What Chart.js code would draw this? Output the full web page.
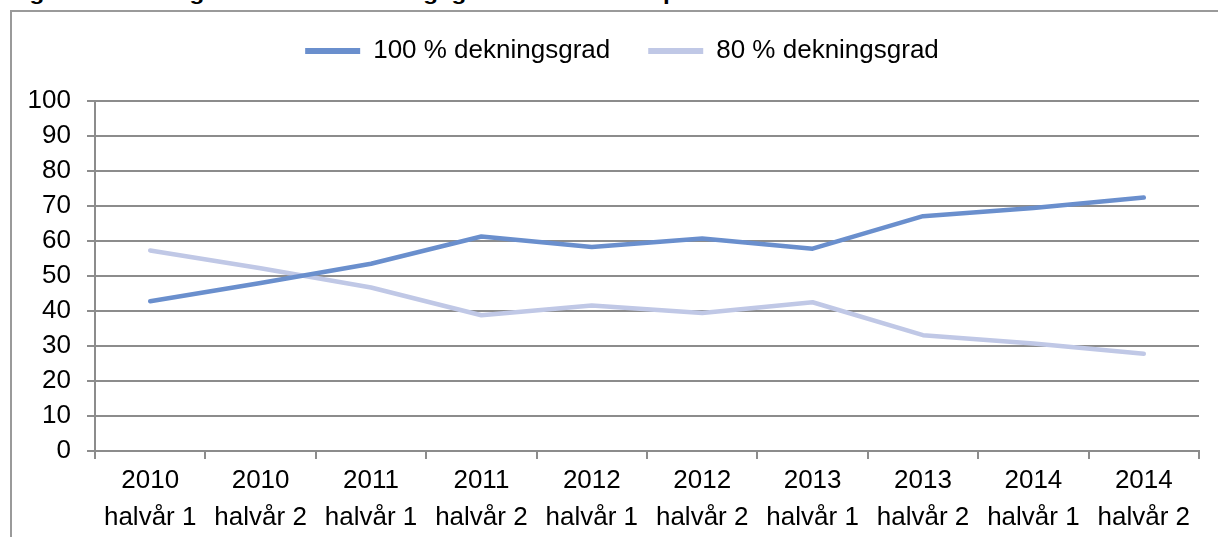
<!DOCTYPE html>
<html>
<head>
<meta charset="utf-8">
<script src="https://cdn.jsdelivr.net/npm/chart.js@4"></script>
<style>
  html, body { margin: 0; padding: 0; background: #fff; overflow: hidden; }
  #tittel {
    position: absolute; left: 8px; top: -17px; white-space: nowrap;
    font: bold 20px "Liberation Sans", Arial, sans-serif; line-height: 20px; color: #000;
    transform-origin: left top;
  }
  #ramme {
    position: absolute; left: 10px; top: 10px; width: 1300px; height: 600px;
    border: 2px solid #9a9a9a;
  }
  #graf { position: absolute; left: 0; top: 0; }
</style>
</head>
<body>
<div id="tittel">Figur 5. Utviklingen i bruk av dekningsgrad. Andel barn i/på i aktuelt halvår</div>
<div id="ramme"></div>
<canvas id="graf" width="1218" height="537"></canvas>
<script>
// verdier lest av figuren
const perioder = [
    ['2010', 'halvår 1'], ['2010', 'halvår 2'],
    ['2011', 'halvår 1'], ['2011', 'halvår 2'],
    ['2012', 'halvår 1'], ['2012', 'halvår 2'],
    ['2013', 'halvår 1'], ['2013', 'halvår 2'],
    ['2014', 'halvår 1'], ['2014', 'halvår 2']
];
const dekning100 = [42.8, 48.0, 53.5, 61.3, 58.3, 60.7, 57.8, 67.1, 69.4, 72.4];
const dekning80 = [57.3, 52.2, 46.7, 38.8, 41.6, 39.4, 42.5, 33.1, 30.7, 27.8];
const yMin = 0, yMax = 100, ySteg = 10;

const blaa = 'rgb(106, 143, 205)';
const lysblaa = 'rgb(192, 200, 230)';
const strek = '#8c8c8c';
const skrift = { family: '"Liberation Sans", Arial, sans-serif', size: 26 };

// tittelen er kuttet i toppen, strekk den til samme bredde
const t = document.getElementById('tittel');
t.style.transform = 'scaleX(' + (860 / t.offsetWidth) + ')';

// fast hoyde paa legenden saa plottet starter paa riktig sted
const legendeHoyde = {
    id: 'legendeHoyde',
    afterInit(chart) {
        const lg = chart.legend;
        const fit = lg.fit;
        lg.fit = function () { fit.call(this); this.height = 101; };
    },
    afterLayout(chart) {
        // ikke klipp y-etikettene mot venstre padding
        chart.scales.y.left = 0;
    }
};

new Chart(document.getElementById('graf'), {
    type: 'line',
    data: {
        labels: perioder,
        datasets: [{
            label: '100 % dekningsgrad',
            data: dekning100,
            borderColor: blaa,
            backgroundColor: blaa,
            borderWidth: 4.5,
            borderCapStyle: 'round',
            borderJoinStyle: 'round',
            pointRadius: 0,
            tension: 0
        }, {
            label: '80 % dekningsgrad',
            data: dekning80,
            borderColor: lysblaa,
            backgroundColor: lysblaa,
            borderWidth: 4.5,
            borderCapStyle: 'round',
            borderJoinStyle: 'round',
            pointRadius: 0,
            tension: 0
        }]
    },
    options: {
        responsive: false,
        animation: false,
        layout: { padding: { left: 45, right: 19, top: 0, bottom: 0 } },
        plugins: {
            tooltip: { enabled: false },
            legend: {
                position: 'top',
                labels: {
                    color: '#000',
                    font: skrift,
                    boxWidth: 55,
                    boxHeight: 6,
                    padding: 38,
                    generateLabels(chart) {
                        return chart.data.datasets.map((ds, i) => ({
                            text: ds.label,
                            fillStyle: ds.borderColor,
                            strokeStyle: ds.borderColor,
                            lineWidth: 0,
                            fontColor: '#000',
                            hidden: false,
                            datasetIndex: i
                        }));
                    }
                }
            }
        },
        scales: {
            x: {
                offset: true,
                grid: { offset: true, drawOnChartArea: false, drawTicks: true, tickLength: 8, color: strek, lineWidth: 2 },
                border: { color: strek, width: 2 },
                ticks: { color: '#000', font: { ...skrift, lineHeight: 1.4 }, padding: 4, maxRotation: 0, autoSkip: false },
                afterFit(s) { s.height = 86; }
            },
            y: {
                min: yMin,
                max: yMax,
                grid: { color: strek, lineWidth: 2, tickLength: 8 },
                border: { color: strek, width: 2 },
                ticks: { stepSize: ySteg, color: '#000', font: skrift, padding: 16 },
                afterFit(s) { s.width = 50; }
            }
        }
    },
    plugins: [legendeHoyde]
});
</script>
</body>
</html>
